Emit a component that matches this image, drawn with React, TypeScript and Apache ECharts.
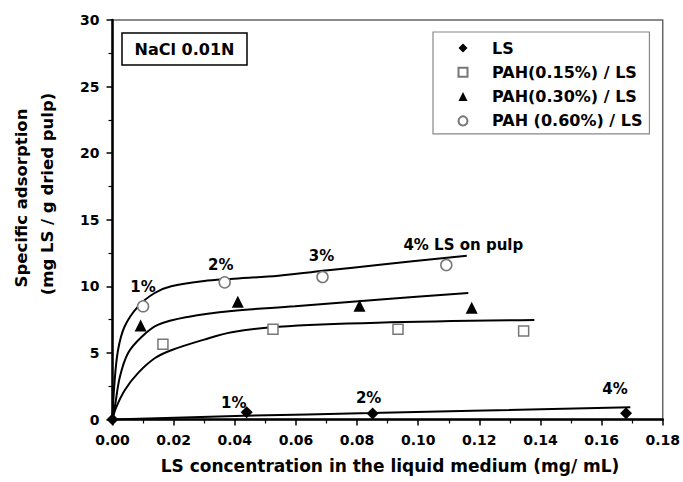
import React, { useEffect, useRef } from "react";
import * as echarts from "echarts";

// Measured points
const lsX = [0, 0.0439, 0.0851, 0.168];
const lsY = [0, 0.55, 0.45, 0.47];
const lsNotes = ["", "1%", "2%", "4%"];

const pah15X = [0.0165, 0.0525, 0.0934, 0.1345];
const pah15Y = [5.65, 6.77, 6.77, 6.64];

const pah30X = [0.0092, 0.041, 0.0808, 0.1175];
const pah30Y = [7.05, 8.85, 8.55, 8.4];

const pah60X = [0.01, 0.0367, 0.0687, 0.1092];
const pah60Y = [8.5, 10.3, 10.7, 11.6];
const pah60Notes = ["1%", "2%", "3%", "4% LS on pulp"];

// Fitted curves
const fit60X = [0, 0.0006, 0.0018, 0.004, 0.0084, 0.0138, 0.0192, 0.03, 0.0386, 0.0543, 0.0705, 0.0867, 0.1159];
const fit60Y = [0, 2.6, 5.2, 7.0, 8.5, 9.5, 10.0, 10.4, 10.55, 10.8, 11.2, 11.6, 12.3];

const fit30X = [0, 0.0008, 0.0024, 0.0051, 0.0095, 0.0148, 0.0246, 0.039, 0.0597, 0.0867, 0.1164];
const fit30Y = [0, 1.0, 3.2, 5.0, 6.2, 7.1, 7.7, 8.15, 8.5, 9.0, 9.5];

const fit15X = [0, 0.001, 0.004, 0.0084, 0.0138, 0.0192, 0.03, 0.039, 0.0543, 0.0867, 0.138];
const fit15Y = [0, 0.8, 2.2, 3.5, 4.6, 5.2, 6.0, 6.55, 6.97, 7.27, 7.47];

const fitLsX = [0, 0.043, 0.0845, 0.1694];
const fitLsY = [0, 0.28, 0.48, 0.92];

const seriesNames = ["LS", "PAH(0.15%) / LS", "PAH(0.30%) / LS", "PAH (0.60%) / LS"];

const xTickFormat = (v: number) => v.toFixed(2);

const FONT = "DejaVu Sans";

export default function App() {
  const ref = useRef<HTMLDivElement>(null);

  useEffect(() => {
    document.body.style.margin = "0";
    if (!ref.current) return;
    const chart = echarts.init(ref.current, undefined, { renderer: "svg" });

    const pairs = (xs: number[], ys: number[]) => xs.map((x, i) => [x, ys[i]]);

    const lsOffsets = [[0, 0], [-13, -9], [-4, -16], [-11, -24]];
    const pah60Offsets = [[0, -19], [-4, -17], [-1, -21], [17, -20]];

    const noteLabel = (text: string, offset: number[]) => ({
      show: !!text,
      formatter: text,
      position: "inside",
      offset,
      color: "#000",
      textBorderWidth: 0,
      textBorderColor: "transparent",
      fontWeight: "bold",
      fontSize: 15,
      fontFamily: FONT,
    });

    const fitLine = (xs: number[], ys: number[]) => ({
      type: "line",
      data: pairs(xs, ys),
      symbol: "none",
      showSymbol: false,
      smooth: 0.35,
      silent: true,
      lineStyle: { color: "#000", width: 2 },
      z: 2,
    });

    const axisCommon = {
      type: "value",
      axisLine: { show: true, onZero: false, lineStyle: { color: "#000", width: 2.5 } },
      axisTick: { show: true, length: 6, lineStyle: { color: "#000", width: 1.5 } },
      minorTick: { show: true, splitNumber: 2, length: 4, lineStyle: { color: "#000", width: 1.2 } },
      splitLine: { show: false },
      minorSplitLine: { show: false },
    };

    const titleStyle = (text: string, size: number) => ({
      text,
      font: `bold ${size}px "${FONT}"`,
      fill: "#000",
      textAlign: "center",
      textVerticalAlign: "middle",
      align: "center",
      verticalAlign: "middle",
    });

    const option: any = {
      animation: false,
      grid: {
        left: 112.5,
        right: 15,
        top: 20,
        bottom: 62.5,
        show: true,
        borderColor: "#666",
        borderWidth: 1.5,
        backgroundColor: "transparent",
      },
      xAxis: {
        ...axisCommon,
        min: 0,
        max: 0.18,
        interval: 0.02,
        axisLabel: {
          margin: 13,
          color: "#000",
          fontWeight: "bold",
          fontSize: 14,
          fontFamily: FONT,
          formatter: xTickFormat,
        },
      },
      yAxis: {
        ...axisCommon,
        min: 0,
        max: 30,
        interval: 5,
        axisLabel: {
          margin: 13,
          color: "#000",
          fontWeight: "bold",
          fontSize: 14,
          fontFamily: FONT,
        },
      },
      legend: {
        orient: "vertical",
        left: 433,
        top: 32,
        data: seriesNames,
        itemWidth: 9,
        itemHeight: 9,
        itemGap: 6.3,
        padding: [7, 7, 4, 24.5],
        borderColor: "#888",
        borderWidth: 1.2,
        selectedMode: false,
        textStyle: {
          fontFamily: FONT,
          fontWeight: "bold",
          fontSize: 16,
          color: "#000",
          lineHeight: 18,
          padding: [0, 0, 0, 19.5],
        },
      },
      graphic: [
        {
          type: "rect",
          shape: { x: 122, y: 33, width: 125, height: 32 },
          style: { fill: "#fff", stroke: "#000", lineWidth: 1.5 },
          z: 10,
        },
        { type: "text", x: 184.5, y: 49.5, style: titleStyle("NaCl 0.01N", 16), z: 11 },
        { type: "text", x: 21, y: 198, rotation: Math.PI / 2, style: titleStyle("Specific adsorption", 16.5) },
        { type: "text", x: 47, y: 194, rotation: Math.PI / 2, style: titleStyle("(mg LS / g dried pulp)", 16.5) },
        {
          type: "text",
          x: 390,
          y: 466,
          style: titleStyle("LS concentration in the liquid medium (mg/ mL)", 17),
        },
      ],
      series: [
        fitLine(fitLsX, fitLsY),
        fitLine(fit15X, fit15Y),
        fitLine(fit30X, fit30Y),
        fitLine(fit60X, fit60Y),
        {
          name: seriesNames[0],
          type: "scatter",
          symbol: "diamond",
          symbolSize: 12,
          itemStyle: { color: "#000", opacity: 1 },
          z: 3,
          data: lsX.map((x, i) => ({ value: [x, lsY[i]], label: noteLabel(lsNotes[i], lsOffsets[i]) })),
        },
        {
          name: seriesNames[1],
          type: "scatter",
          symbol: "rect",
          symbolSize: 10,
          itemStyle: { color: "#fff", borderColor: "#777", borderWidth: 1.5, opacity: 1 },
          z: 3,
          data: pairs(pah15X, pah15Y),
        },
        {
          name: seriesNames[2],
          type: "scatter",
          symbol: "triangle",
          symbolSize: 12,
          itemStyle: { color: "#000", opacity: 1 },
          z: 3,
          data: pairs(pah30X, pah30Y),
        },
        {
          name: seriesNames[3],
          type: "scatter",
          symbol: "circle",
          symbolSize: 11,
          itemStyle: { color: "#fff", borderColor: "#777", borderWidth: 1.5, opacity: 1 },
          z: 3,
          data: pah60X.map((x, i) => ({ value: [x, pah60Y[i]], label: noteLabel(pah60Notes[i], pah60Offsets[i]) })),
        },
      ],
    };

    chart.setOption(option);
    return () => chart.dispose();
  }, []);

  return <div ref={ref} style={{ width: 683, height: 482 }} />;
}
